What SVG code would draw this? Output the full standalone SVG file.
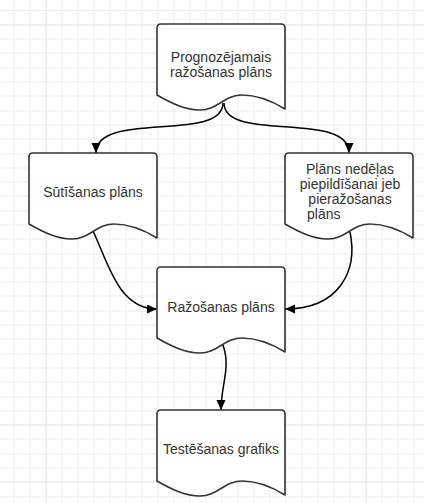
<svg xmlns="http://www.w3.org/2000/svg" width="424" height="503" viewBox="0 0 424 503">
  <style>
    .grid { stroke: #ececec; stroke-width: 1; fill: none; }
    .grid-major { stroke: #e2e2e2; stroke-width: 1; fill: none; }
    .doc { fill: #ffffff; stroke: #333333; stroke-width: 1.6; stroke-linejoin: round; }
    .label { font-family: "Liberation Sans", Arial, sans-serif; font-size: 14px; fill: #333333; text-anchor: middle; }
    .label-start { text-anchor: start; }
    .edge { fill: none; stroke: #000000; stroke-width: 1.5; }
  </style>
  <defs>
    <!-- document shape: rounded top, wavy bottom edge -->
    <path id="docShape" d="M0,71 V4 Q0,0 4,0 H124 Q128,0 128,4 V85 C115,77 100,71 85,71 C68,71 60,86 43,86 C28,86 14,79 0,71 Z"/>
    <marker id="arrow" markerUnits="userSpaceOnUse" markerWidth="12" markerHeight="10" refX="10" refY="4.5" orient="auto">
      <path d="M0,0 L10,4.5 L0,9 Z" fill="#000000"/>
    </marker>
  </defs>

  <!-- background grid -->
  <rect x="0" y="0" width="424" height="503" fill="#ffffff"/>
  <path class="grid" d="M14,0V503 M30,0V503 M62,0V503 M78,0V503 M94,0V503 M110,0V503 M126,0V503 M142,0V503 M158,0V503 M174,0V503 M190,0V503 M206,0V503 M222,0V503 M238,0V503 M254,0V503 M270,0V503 M286,0V503 M302,0V503 M318,0V503 M334,0V503 M350,0V503 M382,0V503 M398,0V503 M414,0V503
    M0,10.5H424 M0,39H424 M0,53H424 M0,68H424 M0,82H424 M0,96H424 M0,111H424 M0,125H424 M0,139H424 M0,154H424 M0,168H424 M0,182H424 M0,196H424 M0,211H424 M0,225H424 M0,239H424 M0,254H424 M0,268H424 M0,282H424 M0,296H424 M0,311H424 M0,325H424 M0,339H424 M0,354H424 M0,368H424 M0,382H424 M0,397H424 M0,411H424 M0,439H424 M0,454H424 M0,468H424 M0,497H424"/>
  <path class="grid-major" d="M46,0V503 M366,0V503 M0,25H424 M0,425H424 M0,482H424"/>

  <!-- connectors -->
  <g id="connectors">
    <path class="edge" d="M223,103 C223,143 96,110 96,153" marker-end="url(#arrow)"/>
    <path class="edge" d="M224,103 C224,143 349,110 349,153" marker-end="url(#arrow)"/>
    <path class="edge" d="M93,231 C108,262 118,309 157,309" marker-end="url(#arrow)"/>
    <path class="edge" d="M350,232 C358,270 340,309 285,309" marker-end="url(#arrow)"/>
    <path class="edge" d="M223,345 C231,368 221,385 221,410" marker-end="url(#arrow)"/>
  </g>

  <!-- nodes -->
  <g id="node-prognozejamais" transform="translate(157,24)">
    <use href="#docShape" class="doc"/>
    <text class="label" x="64" y="38">Prognozējamais</text>
    <text class="label" x="64" y="52.5">ražošanas plāns</text>
  </g>

  <g id="node-sutisanas" transform="translate(29,153)">
    <use href="#docShape" class="doc"/>
    <text class="label" x="64" y="44">Sūtīšanas plāns</text>
  </g>

  <g id="node-nedelas" transform="translate(285,153)">
    <use href="#docShape" class="doc"/>
    <text class="label" x="65" y="21">Plāns nedēļas</text>
    <text class="label" x="65" y="36">piepildīšanai jeb</text>
    <text class="label" x="65" y="51">pieražošanas</text>
    <text class="label label-start" x="22" y="65.5">plāns</text>
  </g>

  <g id="node-razosanas" transform="translate(157,267)">
    <use href="#docShape" class="doc"/>
    <text class="label" x="64" y="45">Ražošanas plāns</text>
  </g>

  <g id="node-testesanas" transform="translate(157,410)">
    <use href="#docShape" class="doc"/>
    <text class="label" x="64" y="44">Testēšanas grafiks</text>
  </g>
</svg>
